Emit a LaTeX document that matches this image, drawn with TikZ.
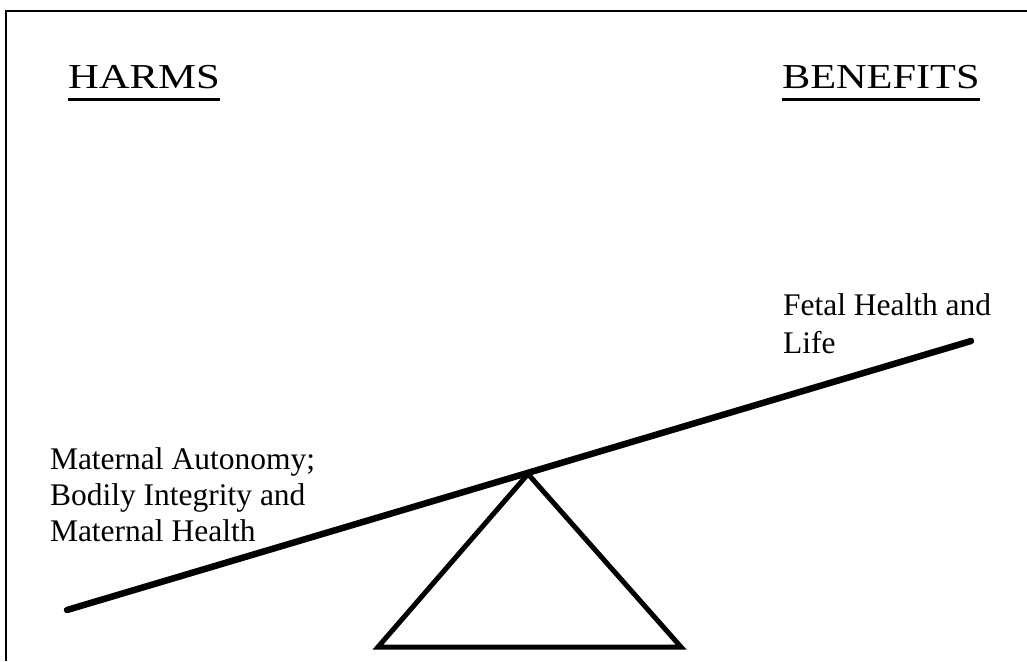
\documentclass[tikz,border=0pt]{standalone}
\usepackage{fontspec}
\usepackage{graphicx}
\setmainfont{Liberation Serif}
\tikzset{
  lbl/.style={inner sep=0pt, outer sep=0pt, anchor=base west, font=\fontsize{31.5}{37}\selectfont},
  hdr/.style={inner sep=0pt, outer sep=0pt, anchor=base west, font=\fontsize{35}{40}\selectfont},
  frame/.style={line width=2pt},
  beam/.style={line width=6.5pt, line cap=round},
  fulcrum/.style={line width=5pt, line join=miter},
  uline/.style={line width=3pt}
}
\begin{document}
\begin{tikzpicture}[x=1pt,y=-1pt]
\useasboundingbox (0,0) rectangle (1027,661);
% frame (top and left edges)
\coordinate (fbl) at (6,661);
\coordinate (ftl) at (6,11);
\coordinate (ftr) at (1027,11);
\draw[frame] (fbl) -- (ftl) -- (ftr);
% headers
\node[hdr] (harms) at (68,88) {\scalebox{1.22}[1]{HARMS}};
\node[hdr] (benefits) at (782,88) {\scalebox{1.21}[1]{BENEFITS}};
\draw[uline] ([yshift=-11pt]harms.base west) -- ([yshift=-11pt]harms.base east);
\draw[uline] ([yshift=-11pt]benefits.base west) -- ([yshift=-11pt]benefits.base east);
% beam and fulcrum
\coordinate (bl) at (67,610);
\coordinate (br) at (971,341);
\draw[beam] (bl) -- (br);
\coordinate (apex) at (528,474);
\coordinate (tl) at (378,647);
\coordinate (tr) at (681,647);
\draw[fulcrum] (apex) -- (tl) -- (tr) -- cycle;
% labels
\node[lbl] (m1) at (50,469) {Maternal Autonomy;};
\node[lbl] (m2) at (50,505) {Bodily Integrity and};
\node[lbl] (m3) at (50,541) {Maternal Health};
\node[lbl] (f1) at (783,315) {Fetal Health and};
\node[lbl] (f2) at (783,353) {Life};
\end{tikzpicture}
\end{document}
